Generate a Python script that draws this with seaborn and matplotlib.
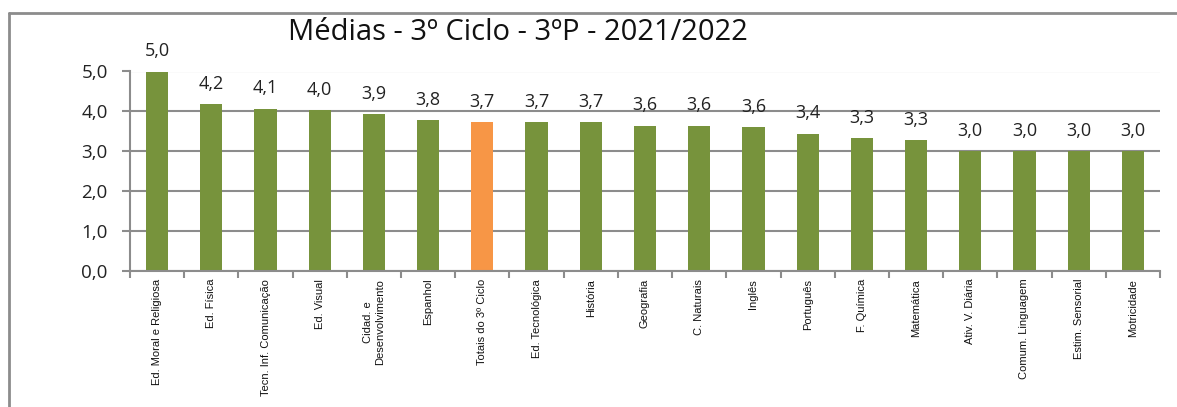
import matplotlib
matplotlib.use("Agg")
import matplotlib.pyplot as plt
from matplotlib.lines import Line2D
import seaborn as sns
import pandas as pd

subjects = [
    "Ed. Moral e Religiosa", "Ed. Física", "Tecn. Inf. Comunicação", "Ed. Visual",
    "Cidad. e\nDesenvolvimento", "Espanhol", "Totais do 3º Ciclo", "Ed. Tecnológica",
    "História", "Geografia", "C. Naturais", "Inglês", "Português", "F. Química",
    "Matemática", "Ativ. V. Diária", "Comum. Linguagem", "Estim. Sensorial", "Motricidade",
]
averages = [5.00, 4.19, 4.07, 4.03, 3.94, 3.78, 3.74, 3.73, 3.73, 3.64,
            3.64, 3.60, 3.44, 3.33, 3.28, 3.00, 3.00, 3.00, 3.00]
kinds = ["disciplina"] * 6 + ["total"] + ["disciplina"] * 12
yticks = [0, 1, 2, 3, 4, 5]

df = pd.DataFrame({"subject": subjects, "average": averages, "kind": kinds})

sns.set_style("white")
plt.rcParams["font.family"] = ["Open Sans", "DejaVu Sans"]

fig = plt.figure(figsize=(11.77, 4.07), dpi=100)
ax = fig.add_axes([130 / 1177, 1 - 270.5 / 407, (1160 - 130) / 1177, (270.5 - 71.5) / 407])

palette = {"disciplina": "#77933C", "total": "#F79646"}
sns.barplot(data=df, x="subject", y="average", hue="kind", palette=palette,
            dodge=False, width=0.41, legend=False, ax=ax, saturation=1,
            edgecolor="none")

ax.set_ylim(0, 5)
ax.set_xlim(-0.5, len(subjects) - 0.5)
ax.set_yticks(yticks)
ax.set_yticklabels([f"{v:.1f}".replace(".", ",") for v in yticks], fontsize=13.5, color="#222222")
ax.yaxis.grid(True, color="#8c8c8c", linewidth=1.5)
ax.set_axisbelow(True)
ax.set_xlabel("")
ax.set_ylabel("")

for s in ["top", "right"]:
    ax.spines[s].set_visible(False)
for s in ["left", "bottom"]:
    ax.spines[s].set_color("#8c8c8c")
    ax.spines[s].set_linewidth(1.5)

ax.tick_params(axis="y", which="both", left=True, length=6, width=1.5, color="#8c8c8c", pad=10)

# category boundary ticks on the x axis
ax.set_xticks([i - 0.5 for i in range(len(subjects) + 1)], minor=True)
ax.tick_params(axis="x", which="minor", bottom=True, length=5, width=1.5, color="#8c8c8c")
ax.tick_params(axis="x", which="major", bottom=False, length=0, pad=6)
ax.set_xticks(range(len(subjects)))
ax.set_xticklabels(subjects, rotation=90, fontsize=8, color="#111111",
                   family=["Liberation Sans", "DejaVu Sans"],
                   ha="center", va="top", multialignment="center")

for i, v in enumerate(averages):
    ax.annotate(f"{v:.1f}".replace(".", ","), (i, v), xytext=(0, 14.5),
                textcoords="offset points", ha="center", va="center",
                fontsize=13, color="#222222", annotation_clip=False)

fig.text(518 / 1177, 1 - 32 / 407, "Médias - 3º Ciclo - 3ºP - 2021/2022",
         ha="center", va="center", fontsize=21, color="#111111")

# outer frame of the chart area
fig.add_artist(Line2D([9 / 1177, 9 / 1177], [0, 1 - 13 / 407], color="#8c8c8c", linewidth=2))
fig.add_artist(Line2D([9 / 1177, 1], [1 - 13 / 407, 1 - 13 / 407], color="#8c8c8c", linewidth=2))

fig.savefig("out.png", dpi=100)
